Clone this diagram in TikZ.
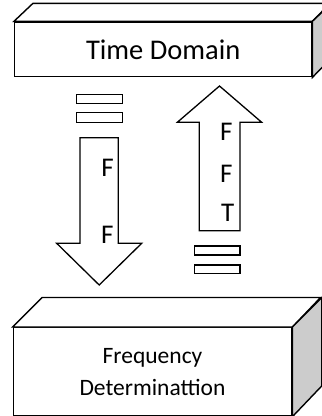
\documentclass[tikz,border=0pt]{standalone}
\usepackage{fontspec}
\setmainfont{Carlito}
\begin{document}
\begin{tikzpicture}[x=1pt,y=-1pt,
  edge/.style={draw=black,line width=1.4pt,line join=miter},
  face/.style={edge,fill=white,inner sep=0pt,anchor=center},
  sideface/.style={edge,fill=black!20},
  bar/.style={draw=black,line width=1.3pt,fill=white},
  arrowbody/.style={draw=black,line width=1.3pt,fill=white,line join=miter},
  letter/.style={inner sep=0pt,font=\fontsize{27}{32}\selectfont}]
\useasboundingbox (0,0) rectangle (322,416);
\clip (0,0) rectangle (322,416);

% upper block: front face with the label
\node[face,minimum width=297pt,minimum height=54.7pt,
      font=\fontsize{28.5}{34}\selectfont] (td) at (163.2,49.35) {Time Domain};
\draw[edge,fill=white] (td.north west) -- ++(19,-18) -- ++(297,0) -- (td.north east) -- cycle;
\draw[sideface] (td.north east) -- ++(19,-18) -- ++(0,54.7) -- (td.south east) -- cycle;

% lower block: front face with the label
\node[face,minimum width=278.4pt,minimum height=88.3pt,align=center,
      font=\fontsize{23.5}{32}\selectfont] (fd) at (152.5,371.85) {Frequency\\Determinattion};
\draw[edge,fill=white] (fd.north west) -- ++(29.5,-29.5) -- ++(278.4,0) -- (fd.north east) -- cycle;
\draw[sideface] (fd.north east) -- ++(29.5,-29.5) -- ++(0,88.3) -- (fd.south east) -- cycle;

% downward arrow with its equals sign
\draw[bar] (76.7,94.7) rectangle (122.7,103.3);
\draw[bar] (76.7,112.7) rectangle (122.7,122.3);
\draw[arrowbody] (80,137.7) -- (118.3,137.7) -- (118.3,243.3) -- (141.7,243.3)
  -- (99.2,285) -- (56.7,243.3) -- (80,243.3) -- cycle;
\node[letter] (d1) at (107.5,168) {F};
\node[letter] (d2) at (107.3,235) {F};

% upward arrow with its equals sign
\draw[arrowbody] (199.3,230.7) -- (240,230.7) -- (240,122.3) -- (261.7,122.3)
  -- (219.5,86) -- (177.3,122.3) -- (199.3,122.3) -- cycle;
\node[letter] (u1) at (226.3,132) {F};
\node[letter] (u2) at (226.3,174) {F};
\node[letter] (u3) at (227.8,213.3) {T};
\draw[bar] (194.3,246) rectangle (240,255);
\draw[bar] (194.3,265) rectangle (240,273.3);
\end{tikzpicture}
\end{document}
